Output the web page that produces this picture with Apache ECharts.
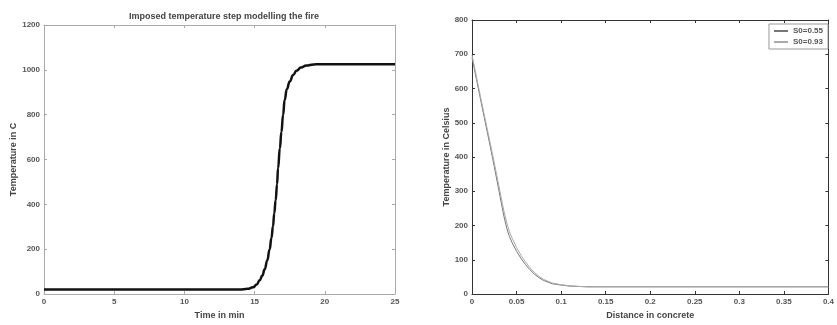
<!DOCTYPE html>
<html><head><meta charset="utf-8">
<script src="https://cdn.jsdelivr.net/npm/echarts@6/dist/echarts.min.js"></script>
<style>html,body{margin:0;padding:0;background:#fff}#c{width:837px;height:325px}</style>
</head><body><div id="c"></div>
<script>
// Left chart: imposed temperature step
const timeMin = [0, 5, 10, 13, 13.94, 14.5, 14.89, 15.15, 15.36, 15.55, 15.72, 15.9, 16.07, 16.2, 16.31, 16.4, 16.5, 16.6, 16.67, 16.8, 16.91, 17.03, 17.14, 17.3, 17.5, 17.75, 17.98, 18.3, 18.69, 19.2, 19.64, 20.5, 25];
const tempC   = [20, 20, 20, 20, 20, 23, 30, 42, 61, 82, 110, 150, 199, 250, 302, 360, 418, 490, 561, 650, 723, 800, 865, 915, 948, 977, 996, 1010, 1019, 1024, 1025, 1025, 1025];
// Right chart: temperature profile in concrete
const distance = [0, 0.005, 0.01, 0.015, 0.02, 0.025, 0.03, 0.033, 0.036, 0.039, 0.042, 0.045, 0.05, 0.055, 0.06, 0.065, 0.07, 0.075, 0.08, 0.09, 0.1, 0.11, 0.12, 0.13, 0.15, 0.2, 0.25, 0.3, 0.35, 0.4];
const tempS055 = [690, 627, 563, 500, 437, 372, 305, 264, 225, 192, 168, 150, 125, 104, 86, 71, 58, 48, 40, 30, 26, 23, 22, 21, 21, 21, 21, 21, 21, 21];
const tempS093 = [698, 634, 570, 508, 446, 383, 318, 278, 240, 208, 182, 163, 136, 113, 94, 77, 63, 52, 43, 32, 27, 24, 22, 21, 21, 21, 21, 21, 21, 21];
const seriesNames = ['S0=0.55', 'S0=0.93'];
const leftXTicks = [0, 25, 5];
const leftYTicks = [0, 1200, 200];
const rightXTicks = [0, 0.4, 0.05];
const rightYTicks = [0, 800, 100];

const zip = (a, b) => a.map((v, i) => [v, b[i]]);
const font = 'Liberation Sans';
const lbl = {fontFamily: font, fontSize: 8, fontWeight: 'bold', color: '#555', formatter: v => String(v)};
function axis(type, grid, pos, ticks, lineColor, showLabel, extra) {
  return Object.assign({
    type: 'value', gridIndex: grid, position: pos,
    min: ticks[0], max: ticks[1], interval: ticks[2],
    axisLine: {show: true, onZero: false, lineStyle: {color: lineColor, width: 1}},
    axisTick: {show: true, inside: true, length: 3, lineStyle: {color: lineColor}},
    axisLabel: Object.assign({show: showLabel, margin: 4}, lbl),
    splitLine: {show: false}
  }, extra || {});
}
const nameStyle = {fontFamily: font, fontSize: 9, fontWeight: 'bold', color: '#444'};
const chart = echarts.init(document.getElementById('c'), null, {renderer: 'canvas'});
chart.setOption({
  animation: false,
  backgroundColor: '#fff',
  title: {
    text: 'Imposed temperature step modelling the fire',
    left: 219, top: 7, textAlign: 'center',
    textStyle: {fontFamily: font, fontSize: 9, fontWeight: 'bold', color: '#444'}
  },
  legend: {
    data: seriesNames, right: 9, top: 24, orient: 'vertical',
    itemWidth: 14, itemHeight: 2, itemGap: 3, padding: [3, 5, 3, 5],
    borderColor: '#999', borderWidth: 1, backgroundColor: '#fff',
    icon: 'rect',
    textStyle: {fontFamily: font, fontSize: 8, fontWeight: 'bold', color: '#555'}
  },
  grid: [
    {left: 44, top: 25, width: 351, height: 274},
    {left: 472, top: 20, width: 357, height: 280}
  ],
  xAxis: [
    axis('x', 0, 'bottom', leftXTicks, '#aaa', true, {name: 'Time in min', nameLocation: 'middle', nameGap: 17, nameTextStyle: nameStyle}),
    axis('x', 0, 'top', leftXTicks, '#aaa', false),
    axis('x', 1, 'bottom', rightXTicks, '#333', true, {name: 'Distance in concrete', nameLocation: 'middle', nameGap: 17, nameTextStyle: nameStyle}),
    axis('x', 1, 'top', rightXTicks, '#333', false)
  ],
  yAxis: [
    axis('y', 0, 'left', leftYTicks, '#aaa', true, {name: 'Temperature in C', nameLocation: 'middle', nameGap: 26, nameTextStyle: nameStyle}),
    axis('y', 0, 'right', leftYTicks, '#aaa', false),
    axis('y', 1, 'left', rightYTicks, '#333', true, {name: 'Temperature in Celsius', nameLocation: 'middle', nameGap: 20, nameTextStyle: nameStyle}),
    axis('y', 1, 'right', rightYTicks, '#333', false)
  ],
  series: [
    {type: 'line', xAxisIndex: 0, yAxisIndex: 0, data: zip(timeMin, tempC), showSymbol: false,
      smooth: 0.5, smoothMonotone: 'x', lineStyle: {color: '#111', width: 2.5}},
    {name: seriesNames[0], type: 'line', xAxisIndex: 2, yAxisIndex: 2, data: zip(distance, tempS055), showSymbol: false,
      smooth: false, color: '#777', lineStyle: {color: '#777', width: 1}},
    {name: seriesNames[1], type: 'line', xAxisIndex: 2, yAxisIndex: 2, data: zip(distance, tempS093), showSymbol: false,
      smooth: false, color: '#aaa', lineStyle: {color: '#aaa', width: 1}}
  ]
});
</script></body></html>
